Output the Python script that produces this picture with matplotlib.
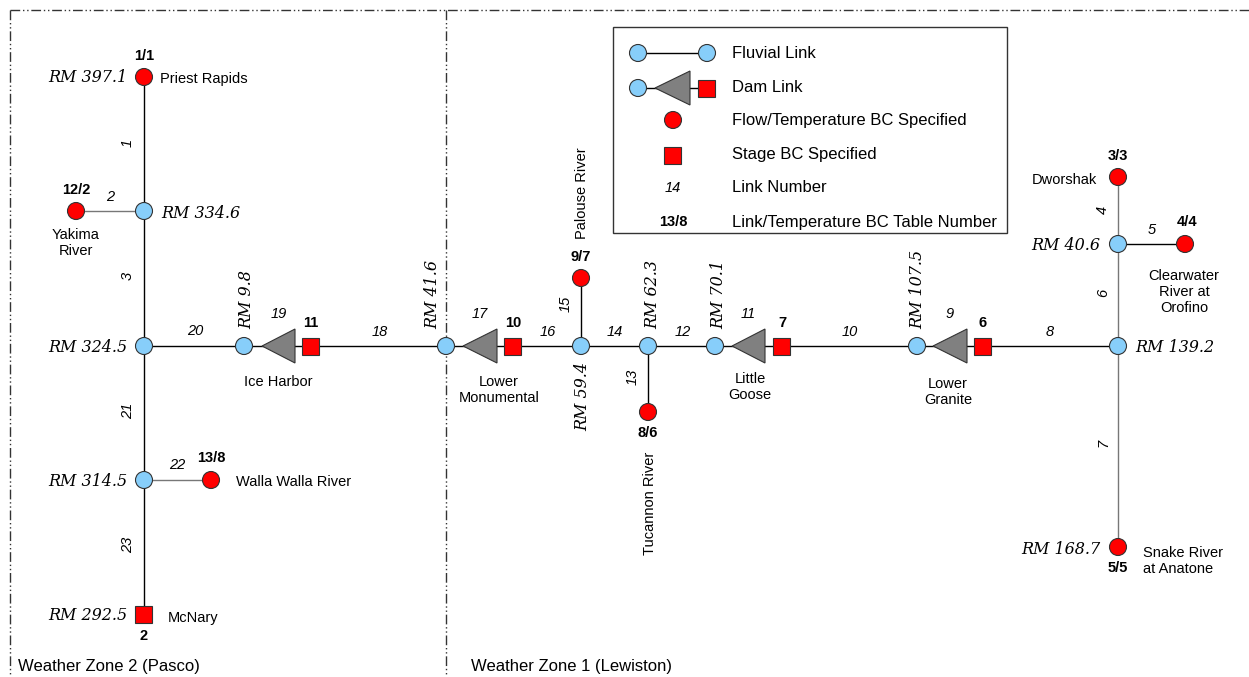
import matplotlib.pyplot as plt
from matplotlib.patches import Circle, Rectangle, Polygon

# --- schematic content -------------------------------------------------
# junction / boundary nodes: (x, y) pixel layout
node_xy = {
    "priest": (144, 77), "j3346": (144, 211), "yakima": (76, 211),
    "j3245": (144, 346), "j3145": (144, 480), "walla": (211, 480),
    "mcnary": (144, 614), "ih_up": (244, 346), "j416": (446, 346),
    "j594": (581, 346), "palouse": (581, 278), "j623": (648, 346),
    "tucannon": (648, 412), "j701": (715, 346), "j1075": (917, 346),
    "j1392": (1118, 346), "j406": (1118, 244), "dworshak": (1118, 177),
    "clearwater": (1185, 244), "anatone": (1118, 547),
}
blue_nodes = ["j3346", "j3245", "j3145", "ih_up", "j416", "j594", "j623",
              "j701", "j1075", "j1392", "j406"]
red_nodes = ["priest", "yakima", "walla", "palouse", "tucannon",
             "dworshak", "clearwater", "anatone"]
stage_nodes = ["mcnary"]

# fluvial links: (from, to, link number, label position, rotated, colour)
links = [
    ("priest", "j3346", "1", (128, 143), True, "k"),
    ("yakima", "j3346", "2", (110, 197), False, "#777777"),
    ("j3346", "j3245", "3", (128, 276), True, "k"),
    ("j3245", "ih_up", "20", (195, 331), False, "k"),
    ("j3245", "j3145", "21", (128, 411), True, "k"),
    ("j3145", "walla", "22", (177, 465), False, "#777777"),
    ("j3145", "mcnary", "23", (128, 545), True, "k"),
    ("j594", "palouse", "15", (566, 304), True, "k"),
    ("j594", "j623", "14", (615, 332), False, "k"),
    ("j623", "tucannon", "13", (633, 377), True, "k"),
    ("j623", "j701", "12", (683, 332), False, "k"),
    ("j1392", "j406", "6", (1103, 293), True, "#777777"),
    ("j406", "dworshak", "4", (1103, 210), True, "#777777"),
    ("j406", "clearwater", "5", (1152, 230), False, "k"),
    ("j1392", "anatone", "7", (1103, 443), True, "#777777"),
]

# dams
dam_names = ["Ice Harbor", "Lower\nMonumental", "Little\nGoose", "Lower\nGranite"]
dam_tip_x = [262, 463, 732, 933]
dam_base_x = [295, 497, 765, 967]
dam_sq_x = [311, 513, 782, 983]
dam_link_no = ["19", "17", "11", "9"]
dam_table_no = ["11", "10", "7", "6"]
dam_label_xy = [(278, 382), (499, 390), (750, 387), (948, 392)]
# reach links downstream of dams: (x0, x1, number, label x)
dam_reaches = [(311, 446, "18", 380), (513, 581, "16", 548),
               (782, 917, "10", 850), (983, 1118, "8", 1050)]

# river-mile labels: text, position, alignment, rotated
rm_labels = [
    ("RM 397.1", (127, 77), "right", False),
    ("RM 334.6", (161, 213), "left", False),
    ("RM 324.5", (127, 348), "right", False),
    ("RM 314.5", (127, 482), "right", False),
    ("RM 292.5", (127, 616), "right", False),
    ("RM 9.8", (247, 329), "up", True),
    ("RM 41.6", (433, 329), "up", True),
    ("RM 59.4", (583, 362), "down", True),
    ("RM 62.3", (653, 329), "up", True),
    ("RM 70.1", (719, 329), "up", True),
    ("RM 107.5", (918, 329), "up", True),
    ("RM 139.2", (1135, 348), "left", False),
    ("RM 40.6", (1100, 245), "right", False),
    ("RM 168.7", (1100, 549), "right", False),
]

# BC table numbers
bc_numbers = [("1/1", (144, 56)), ("12/2", (76, 190)), ("13/8", (211, 458)),
              ("2", (144, 636)), ("9/7", (581, 257)), ("8/6", (648, 433)),
              ("3/3", (1118, 156)), ("4/4", (1187, 222)), ("5/5", (1118, 568))]

# place names
place_names = [
    ("Priest Rapids", (160, 79), "left", 0),
    ("Yakima\nRiver", (76, 243), "center", 0),
    ("Walla Walla River", (236, 482), "left", 0),
    ("McNary", (168, 618), "left", 0),
    ("Palouse River", (582, 193), "center", 90),
    ("Tucannon River", (650, 503), "center", 90),
    ("Dworshak", (1097, 180), "right", 0),
    ("Clearwater\nRiver at\nOrofino", (1184, 292), "center", 0),
    ("Snake River\nat Anatone", (1143, 561), "left", 0),
]

legend_labels = ["Fluvial Link", "Dam Link", "Flow/Temperature BC Specified",
                 "Stage BC Specified", "Link Number",
                 "Link/Temperature BC Table Number"]

# --- styles -------------------------------------------------------------
BLUE = "#87cefa"
RED = "#ff0000"
GRAY = "#808080"
NARROW = ["Liberation Sans Narrow", "Liberation Sans", "DejaVu Sans"]
SANS = ["Liberation Sans", "DejaVu Sans"]
SERIF = ["DejaVu Serif"]
R = 8.5

fig = plt.figure(figsize=(12.49, 6.77), dpi=100)
ax = fig.add_axes([0, 0, 1, 1])
ax.set_xlim(0, 1249)
ax.set_ylim(677, 0)
ax.axis("off")


def blue(x, y):
    ax.add_patch(Circle((x, y), R, fc=BLUE, ec="#333333", lw=0.8, zorder=5))


def red(x, y):
    ax.add_patch(Circle((x, y), R, fc=RED, ec="#333333", lw=0.8, zorder=5))


def square(x, y):
    ax.add_patch(Rectangle((x - 8.5, y - 8.5), 17, 17, fc=RED, ec="#333333",
                           lw=0.8, zorder=5))


def triangle(tip, base, y):
    ax.add_patch(Polygon([(tip, y), (base, y - 17), (base, y + 17)],
                         closed=True, fc=GRAY, ec="#333333", lw=0.8, zorder=5))


def link_no(s, x, y, rot=False):
    ax.text(x, y, s, ha="center", va="center", fontsize=10.5, style="italic",
            rotation=90 if rot else 0, family=NARROW, zorder=6)


# weather-zone boundaries
dash = (0, (7, 2, 1, 2, 1, 2))
ax.plot([10, 1249], [10, 10], color="#333333", lw=1, ls=dash)
ax.plot([10, 10], [10, 677], color="#333333", lw=1, ls=dash)
ax.plot([446, 446], [10, 677], color="#333333", lw=1, ls=dash)
ax.text(18, 667, "Weather Zone 2 (Pasco)", fontsize=12, family=SANS,
        ha="left", va="center")
ax.text(471, 667, "Weather Zone 1 (Lewiston)", fontsize=12, family=SANS,
        ha="left", va="center")

# fluvial links
for a, b, num, (lx, ly), rot, col in links:
    (x0, y0), (x1, y1) = node_xy[a], node_xy[b]
    ax.plot([x0, x1], [y0, y1], color=col, lw=1, zorder=2)
    link_no(num, lx, ly, rot)

# dam links
for i, name in enumerate(dam_names):
    y = 346
    ax.plot([dam_tip_x[i] - 20, dam_sq_x[i]], [y, y], color="k", lw=1, zorder=2)
    triangle(dam_tip_x[i], dam_base_x[i], y)
    square(dam_sq_x[i], y)
    link_no(dam_link_no[i], (dam_tip_x[i] + dam_base_x[i]) / 2, 314)
    ax.text(dam_sq_x[i], 323, dam_table_no[i], ha="center", va="center",
            fontsize=10.5, weight="bold", family=NARROW)
    lx, ly = dam_label_xy[i]
    ax.text(lx, ly, name, ha="center", va="center", fontsize=10.5,
            family=NARROW, linespacing=1.1)
for x0, x1, num, lx in dam_reaches:
    ax.plot([x0, x1], [346, 346], color="k", lw=1, zorder=2)
    link_no(num, lx, 332)

for n in blue_nodes:
    blue(*node_xy[n])
for n in red_nodes:
    red(*node_xy[n])
for n in stage_nodes:
    square(*node_xy[n])

# river miles
for s, (x, y), al, rot in rm_labels:
    if rot:
        va = "bottom" if al == "up" else "top"
        ax.text(x, y, s, ha="center", va=va, rotation=90, fontsize=11.5,
                style="italic", family=SERIF)
    else:
        ax.text(x, y, s, ha=al, va="center", fontsize=11.5, style="italic",
                family=SERIF)

for s, (x, y) in bc_numbers:
    ax.text(x, y, s, ha="center", va="center", fontsize=10.5, weight="bold",
            family=NARROW)

for s, (x, y), al, rot in place_names:
    ax.text(x, y, s, ha=al, va="center", fontsize=10.5, rotation=rot,
            family=NARROW, linespacing=1.2)

# legend box
ax.add_patch(Rectangle((613, 27), 394, 206, fc="white", ec="#333333", lw=1,
                       zorder=1))
rows = [53, 88, 120, 155, 188, 222]
ax.plot([638, 707], [rows[0]] * 2, color="k", lw=1, zorder=2)
blue(638, rows[0])
blue(707, rows[0])
ax.plot([638, 707], [rows[1]] * 2, color="k", lw=1, zorder=2)
blue(638, rows[1])
triangle(655, 690, rows[1])
square(707, rows[1])
red(673, rows[2])
square(673, rows[3])
link_no("14", 673, rows[4])
ax.text(673, rows[5], "13/8", ha="center", va="center", fontsize=10.5,
        weight="bold", family=NARROW)
for s, y in zip(legend_labels, rows):
    ax.text(732, y, s, ha="left", va="center", fontsize=12, family=SANS)

fig.savefig("out.png", dpi=100)
